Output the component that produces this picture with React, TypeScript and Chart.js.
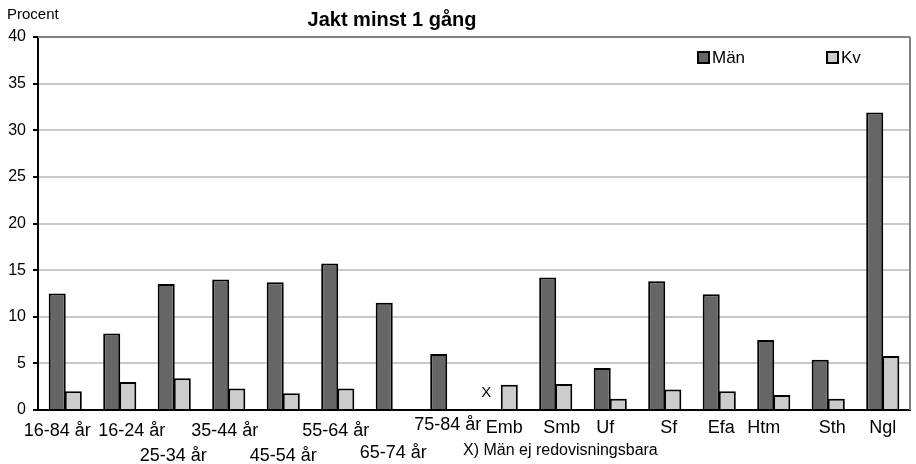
import React, { useEffect, useRef } from "react";
import { Chart, registerables } from "chart.js";

Chart.register(...registerables);

const categories = [
  "16-84 år", "16-24 år", "25-34 år", "35-44 år", "45-54 år", "55-64 år", "65-74 år", "75-84 år",
  "Emb", "Smb", "Uf", "Sf", "Efa", "Htm", "Sth", "Ngl",
];
const menValues: (number | null)[] = [12.5, 8.2, 13.5, 14.0, 13.7, 15.7, 11.5, 6.0, null, 14.2, 4.5, 13.8, 12.4, 7.5, 5.4, 31.9];
const womenValues: (number | null)[] = [2.0, 3.0, 3.4, 2.3, 1.8, 2.3, null, null, 2.7, 2.8, 1.2, 2.2, 2.0, 1.6, 1.2, 5.8];
const yTicks = [0, 5, 10, 15, 20, 25, 30, 35, 40];
const seriesNames = ["Män", "Kv"];
const title = "Jakt minst 1 gång";
const yTitle = "Procent";
const missingMark = "X";
const missingIndex = 8;
const footnote = "X) Män ej redovisningsbara";

// layout-only nudges for the staggered category labels (dx, dy from axis)
const labelLayout: [number, number][] = [
  [-8, 21], [12, 21], [-1, 46], [-4, 21], [0, 46], [-2, 21], [1, 43], [1, 15],
  [3, 18], [6, 18], [-5, 18], [4, 18], [2, 18], [-10, 18], [4, 18], [0, 18],
];

const FONT = "'Liberation Sans', Arial, sans-serif";
const MEN_COLOR = "#666666";
const WOMEN_COLOR = "#cccccc";

export default function App() {
  const ref = useRef<HTMLCanvasElement | null>(null);

  useEffect(() => {
    if (!ref.current) return;
    const overlay = {
      id: "overlay",
      afterDraw(chart: any) {
        const ctx = chart.ctx as CanvasRenderingContext2D;
        const { chartArea, scales } = chart;
        const xs = scales.x;
        const ys = scales.y;
        ctx.save();
        // right and top border of plot area
        ctx.strokeStyle = "#808080";
        ctx.lineWidth = 2;
        ctx.beginPath();
        ctx.moveTo(chartArea.right, chartArea.top);
        ctx.lineTo(chartArea.right, chartArea.bottom);
        ctx.stroke();
        ctx.beginPath();
        ctx.moveTo(chartArea.left, chartArea.top);
        ctx.lineTo(chartArea.right, chartArea.top);
        ctx.stroke();

        ctx.fillStyle = "#000";
        ctx.textBaseline = "middle";
        // title
        ctx.font = `bold 20px ${FONT}`;
        ctx.textAlign = "center";
        ctx.fillText(title, 392, 20);
        // y title
        ctx.font = `15px ${FONT}`;
        ctx.textAlign = "left";
        ctx.fillText(yTitle, 7, 15);
        // legend
        const legend = [
          { x: 698, color: MEN_COLOR, text: seriesNames[0] },
          { x: 827, color: WOMEN_COLOR, text: seriesNames[1] },
        ];
        ctx.font = `17px ${FONT}`;
        for (const l of legend) {
          ctx.fillStyle = l.color;
          ctx.fillRect(l.x, 52, 11, 11);
          ctx.strokeStyle = "#000";
          ctx.lineWidth = 2;
          ctx.strokeRect(l.x, 52, 11, 11);
          ctx.fillStyle = "#000";
          ctx.fillText(l.text, l.x + 14, 58);
        }
        // category labels
        const base = ys.getPixelForValue(0);
        ctx.font = `18px ${FONT}`;
        ctx.textAlign = "center";
        categories.forEach((c, i) => {
          const [dx, dy] = labelLayout[i];
          ctx.fillText(c, xs.getPixelForValue(i) + dx, base + dy);
        });
        // missing mark
        ctx.font = `15px ${FONT}`;
        ctx.fillText(missingMark, xs.getPixelForValue(missingIndex) - 15, base - 17);
        // footnote
        ctx.font = `16px ${FONT}`;
        ctx.textAlign = "left";
        ctx.fillText(footnote, 463, 451);
        ctx.restore();
      },
    };

    const barStyle = {
      borderColor: "#000",
      borderWidth: 2,
      barPercentage: 1.06,
      categoryPercentage: 0.59,
    };

    const chart = new Chart(ref.current, {
      type: "bar",
      data: {
        labels: categories,
        datasets: [
          { label: seriesNames[0], data: menValues, backgroundColor: MEN_COLOR, ...barStyle },
          { label: seriesNames[1], data: womenValues, backgroundColor: WOMEN_COLOR, ...barStyle },
        ],
      },
      options: {
        responsive: false,
        animation: false,
        devicePixelRatio: 1,
        layout: { padding: { left: 0, right: 6, top: 37, bottom: 0 } },
        plugins: {
          legend: { display: false },
          title: { display: false },
          tooltip: { enabled: false },
        },
        scales: {
          x: {
            grid: { display: false, drawTicks: false },
            border: { display: true, color: "#000", width: 2 },
            ticks: { display: false },
            afterFit(scale: any) {
              scale.height = 54;
            },
          },
          y: {
            min: 0,
            max: 40,
            afterBuildTicks(scale: any) {
              scale.ticks = yTicks.map((v) => ({ value: v }));
            },
            grid: { color: "#c8c8c8", lineWidth: 2, tickColor: "#000", tickLength: 5, drawTicks: true },
            border: { display: true, color: "#000", width: 2 },
            ticks: { padding: 7, color: "#000", font: { family: FONT, size: 16 } },
            afterFit(scale: any) {
              scale.width = 38;
            },
          },
        },
      },
      plugins: [overlay],
    } as any);
    return () => chart.destroy();
  }, []);

  return (
    <div style={{ position: "absolute", left: 0, top: 0, width: 916, height: 464, background: "#fff" }}>
      <canvas ref={ref} width={916} height={464} />
    </div>
  );
}
